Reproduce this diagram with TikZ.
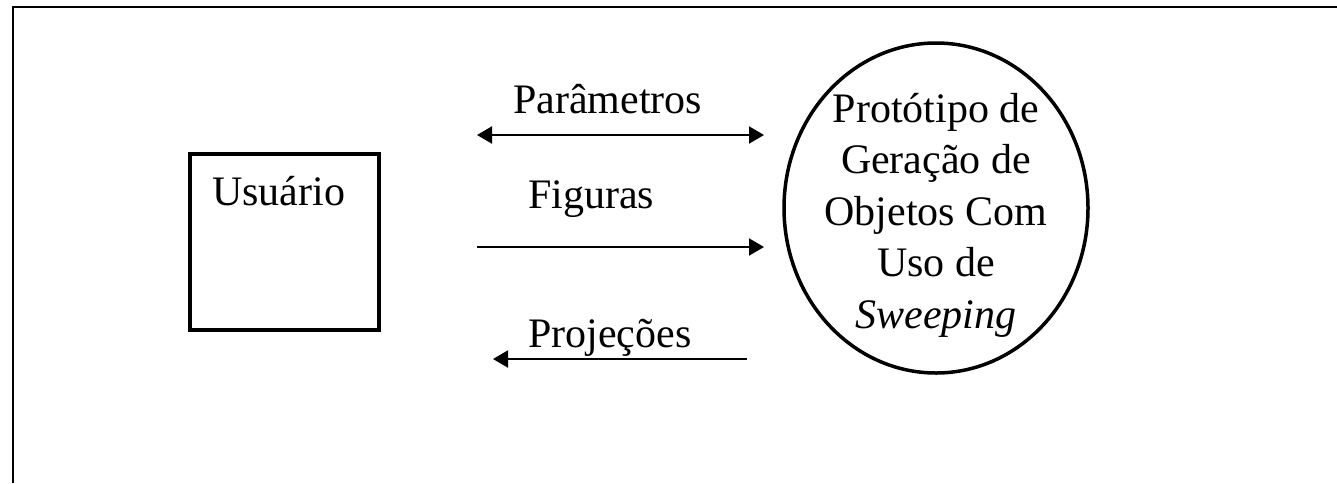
\documentclass[tikz,border=0pt]{standalone}
\usepackage{fontspec}
\setmainfont{Liberation Serif}
\usetikzlibrary{arrows.meta,shapes.geometric}
\begin{document}
\begin{tikzpicture}[x=1pt,y=-1pt,
  lbl/.style={inner sep=0pt,font=\fontsize{42}{51.5}\selectfont},
  flow/.style={line width=2pt,-{Triangle[length=15pt,width=17pt]}},
  bothflow/.style={line width=2pt,{Triangle[length=15pt,width=17pt]}-{Triangle[length=15pt,width=17pt]}}]
\useasboundingbox (0,0) rectangle (1337,483);
% frame (top and left edges)
\draw[line width=2pt] (13,483) -- (13,7) -- (1337,7);
% user box
\node[draw,line width=4pt,minimum width=189pt,minimum height=176pt,inner sep=0pt] (user) at (284.5,242) {};
\node[lbl,anchor=base west] (usertxt) at (212,205) {Usuário};
% process ellipse
\node[draw,ellipse,line width=3.5pt,minimum width=304pt,minimum height=330pt,inner sep=0pt] (proc) at (936,208) {};
\node[lbl,anchor=base] (l1) at (936,122) {Protótipo de};
\node[lbl,anchor=base] (l2) at (936,173.5) {Geração de};
\node[lbl,anchor=base] (l3) at (936,225) {Objetos Com};
\node[lbl,anchor=base] (l4) at (936,276.5) {Uso de};
\node[lbl,anchor=base] (l5) at (936,328) {\textit{Sweeping}};
% connectors
\coordinate (pa) at (477,135);
\coordinate (pb) at (764,135);
\coordinate (fa) at (477,247);
\coordinate (fb) at (764,247);
\coordinate (ja) at (747,359);
\coordinate (jb) at (493,359);
\draw[bothflow] (pa) -- (pb);
\draw[flow] (fa) -- (fb);
\draw[flow] (ja) -- (jb);
\node[lbl,anchor=base west] (ptxt) at (513,113) {Parâmetros};
\node[lbl,anchor=base west] (ftxt) at (528,208) {Figuras};
\node[lbl,anchor=base west] (jtxt) at (528,347) {Projeções};
\end{tikzpicture}
\end{document}
